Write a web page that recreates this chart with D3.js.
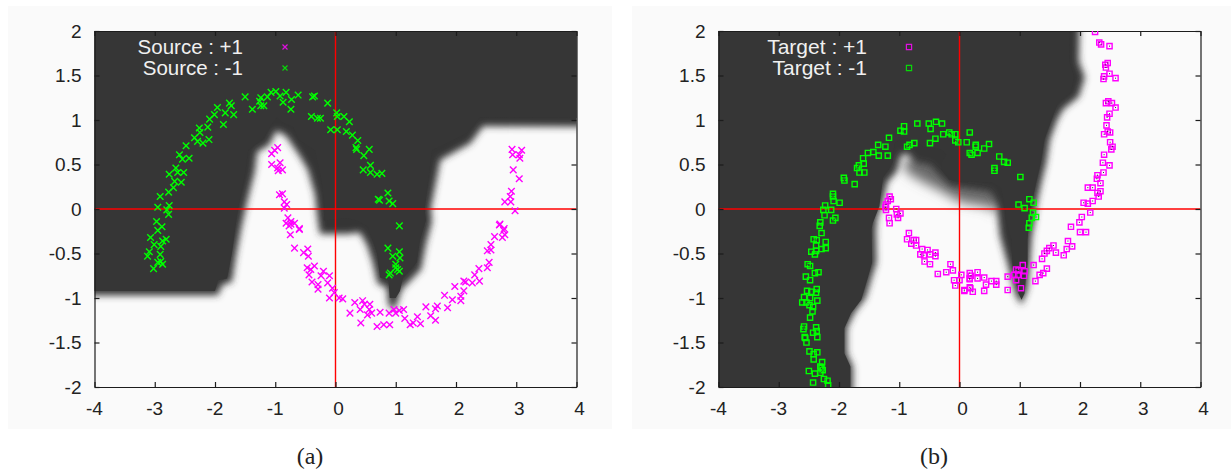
<!DOCTYPE html>
<html><head><meta charset="utf-8">
<style>html,body{margin:0;padding:0;background:#fff}svg{display:block}</style>
<script src="https://cdn.jsdelivr.net/npm/d3@7/dist/d3.min.js"></script></head><body>
<svg id="c" width="1231" height="474"></svg>
<script>
const xTicks=[-4,-3,-2,-1,0,1,2,3,4];
const yTicks=[-2,-1.5,-1,-0.5,0,0.5,1,1.5,2];
const sourcePlus=[[-0.96,0.69],[-1.01,0.66],[-1.06,0.62],[-0.92,0.52],[-1.06,0.50],[-0.96,0.46],[-0.88,0.44],[-0.95,0.43],[-0.88,0.17],[-0.93,0.16],[-0.85,0.08],[-0.81,0.05],[-0.85,0.01],[-0.79,-0.10],[-0.74,-0.14],[-0.77,-0.19],[-0.60,-0.22],[2.93,0.67],[2.94,0.61],[3.09,0.66],[3.05,0.61],[3.06,0.57],[2.95,0.44],[3.05,0.34],[2.92,0.20],[2.90,0.14],[2.81,0.08],[2.91,0.08],[2.98,-0.02],[2.72,-0.18],[2.80,-0.22],[-0.82,-0.16],[-0.74,-0.17],[-0.68,-0.16],[-0.60,-0.23],[-0.75,-0.29],[-0.68,-0.44],[-0.53,-0.49],[-0.46,-0.45],[-0.45,-0.53],[-0.47,-0.66],[-0.41,-0.68],[-0.35,-0.64],[-0.44,-0.74],[-0.39,-0.82],[-0.29,-0.85],[-0.29,-0.90],[-0.20,-0.70],[-0.24,-0.75],[-0.10,-0.75],[-0.13,-0.83],[-0.05,-0.89],[-0.02,-0.94],[-0.10,-1.00],[0.06,-1.00],[0.12,-1.01],[0.24,-1.17],[0.32,-1.05],[0.45,-1.03],[0.48,-1.07],[0.41,-1.13],[0.57,-1.07],[0.56,-1.13],[0.60,-1.17],[0.53,-1.19],[0.42,-1.28],[0.74,-1.16],[0.69,-1.32],[0.80,-1.30],[0.90,-1.30],[0.89,-1.17],[0.97,-1.13],[1.06,-1.14],[1.13,-1.13],[1.00,-1.17],[1.15,-1.23],[1.24,-1.30],[1.36,-1.21],[1.41,-1.29],[1.29,-1.28],[1.50,-1.10],[1.66,-1.12],[1.69,-1.09],[1.58,-1.20],[1.66,-1.25],[1.86,-1.11],[1.81,-0.97],[1.94,-1.02],[2.08,-0.98],[2.08,-1.03],[2.13,-0.92],[1.98,-0.87],[2.13,-0.81],[2.16,-0.82],[2.27,-0.83],[2.39,-0.81],[2.31,-0.74],[2.38,-0.67],[2.52,-0.66],[2.55,-0.60],[2.52,-0.47],[2.58,-0.46],[2.58,-0.40],[2.64,-0.31],[2.77,-0.32],[2.81,-0.29],[2.79,-0.24],[2.73,-0.17]];
const sourceMinus=[[-1.50,1.26],[-1.24,1.25],[-1.26,1.21],[-1.13,1.26],[-1.07,1.31],[-0.99,1.32],[-0.92,1.27],[-0.82,1.31],[-0.87,1.20],[-0.73,1.23],[-0.62,1.28],[-0.74,1.12],[-1.38,1.12],[-1.19,1.16],[-1.24,1.16],[-0.38,1.26],[-0.35,1.27],[-0.13,1.19],[-0.40,1.04],[-0.30,1.02],[-0.25,1.02],[0.02,1.08],[-0.08,0.89],[0.03,0.89],[-1.76,1.19],[-1.73,1.16],[-1.83,1.08],[-1.69,1.06],[-1.96,1.14],[-2.01,1.06],[-2.09,1.01],[-1.86,0.95],[-2.26,0.91],[-2.25,0.86],[-2.12,0.92],[-2.34,0.80],[-2.29,0.76],[-2.20,0.74],[-2.10,0.78],[-2.48,0.71],[-2.59,0.61],[-2.54,0.56],[-2.43,0.57],[-2.65,0.46],[-2.76,0.39],[-2.62,0.41],[-2.52,0.41],[-2.67,0.31],[-2.56,0.30],[-2.69,0.24],[-2.77,0.19],[-2.91,0.14],[-2.95,0.02],[-2.76,0.04],[-2.80,-0.01],[-2.77,-0.06],[-2.97,-0.14],[-2.88,-0.20],[0.03,1.04],[0.14,1.04],[0.23,0.98],[0.18,0.87],[0.28,0.83],[0.37,0.77],[0.34,0.69],[0.35,0.67],[0.56,0.67],[0.47,0.60],[0.58,0.49],[0.46,0.44],[0.58,0.41],[0.69,0.39],[0.77,0.40],[0.87,0.18],[0.71,0.11],[0.73,0.10],[0.89,0.09],[0.95,0.06],[1.06,-0.19],[-2.95,-0.24],[-3.07,-0.32],[-3.01,-0.40],[-2.87,-0.36],[-2.81,-0.34],[-2.90,-0.42],[-3.09,-0.48],[-2.91,-0.51],[-2.90,-0.59],[-2.95,-0.60],[-3.02,-0.67],[-3.12,-0.53],[-2.87,-0.62],[0.87,-0.44],[1.06,-0.48],[0.95,-0.53],[1.07,-0.55],[1.00,-0.62],[1.03,-0.68],[1.00,-0.66],[1.06,-0.70],[0.91,-0.72],[0.89,-0.74]];
const targetPlus=[[-1.16,0.14],[-1.14,0.11],[-1.19,0.09],[-1.22,0.05],[-1.23,0.02],[-1.22,-0.01],[-1.05,0.00],[-0.98,-0.05],[-1.04,-0.06],[-1.17,-0.10],[-1.02,-0.10],[-1.16,-0.16],[-0.84,-0.27],[-0.87,-0.34],[-0.76,-0.35],[-0.72,-0.35],[-0.80,-0.39],[-0.72,-0.41],[-0.62,-0.45],[-0.53,-0.46],[-0.65,-0.51],[-0.59,-0.52],[-0.49,-0.51],[-0.40,-0.49],[-0.40,-0.53],[-0.58,-0.59],[-0.49,-0.62],[-0.36,-0.73],[-0.22,-0.71],[-0.15,-0.62],[-0.11,-0.69],[0.03,-0.74],[-0.09,-0.80],[0,-0.80],[-0.07,-0.86],[0.08,-0.91],[0.17,-0.72],[0.17,-0.78],[0.18,-0.89],[2.25,1.99],[2.32,1.87],[2.35,1.85],[2.49,1.83],[2.46,1.64],[2.42,1.62],[2.43,1.59],[2.49,1.52],[2.40,1.49],[2.59,1.47],[2.39,1.46],[2.43,1.19],[2.47,1.21],[2.53,1.19],[2.59,1.14],[2.49,1.07],[2.45,1.03],[2.44,0.94],[2.46,0.87],[2.40,0.84],[2.50,0.86],[2.50,0.75],[2.54,0.70],[2.52,0.67],[2.40,0.61],[2.38,0.52],[2.49,0.49],[2.39,0.41],[2.29,0.38],[2.28,0.34],[2.34,0.29],[2.13,0.24],[2.21,0.24],[2.34,0.20],[2.29,0.18],[2.31,0.14],[2.21,0.09],[2.06,0.07],[2.13,0.06],[2.17,-0.04],[2.03,-0.09],[1.99,-0.15],[1.85,-0.20],[2.00,-0.26],[2.10,-0.26],[1.80,-0.36],[1.87,-0.42],[1.78,-0.45],[1.73,-0.52],[1.56,-0.41],[1.49,-0.44],[1.45,-0.47],[1.41,-0.50],[1.60,-0.49],[1.37,-0.56],[1.23,-0.63],[1.45,-0.67],[1.39,-0.72],[1.33,-0.74],[1.26,-0.81],[1.05,-0.63],[0.94,-0.68],[0.98,-0.69],[1.08,-0.70],[0.91,-0.74],[0.97,-0.74],[1.07,-0.75],[0.80,-0.76],[0.94,-0.80],[1.02,-0.89],[0.80,-0.91],[0.61,-0.81],[0.61,-0.85],[0.53,-0.81],[0.44,-0.85],[0.41,-0.77],[0.41,-0.92],[0.30,-0.71],[0.30,-0.78],[0.19,-0.75],[0.17,-0.79],[0.22,-0.93],[0.17,-0.88],[0.08,-0.92]];
const targetMinus=[[-0.92,0.93],[-0.98,0.88],[-0.92,0.87],[-1.17,0.80],[-0.70,0.96],[-0.51,0.96],[-0.48,0.90],[-0.39,0.98],[-0.29,0.96],[-1.35,0.72],[-1.23,0.70],[-1.43,0.64],[-1.52,0.63],[-1.60,0.57],[-1.59,0.51],[-1.34,0.60],[-1.19,0.60],[-1.67,0.49],[-1.70,0.46],[-1.66,0.41],[-1.58,0.41],[-0.87,0.70],[-0.83,0.72],[-0.75,0.74],[-0.49,0.74],[-0.40,0.79],[-0.27,0.84],[-0.17,0.86],[-0.13,0.84],[-0.07,0.84],[-0.07,0.77],[-0.02,0.75],[0.12,0.75],[0.17,0.86],[-1.92,0.35],[-1.91,0.32],[-1.74,0.28],[-2.10,0.17],[-2.10,0.14],[-2.09,0.09],[-1.99,0.07],[-2.23,0.04],[-2.26,-0.01],[-2.13,-0.01],[-2.24,-0.07],[-2.06,-0.10],[-2.10,-0.13],[-2.31,-0.15],[-2.32,-0.19],[0.27,0.72],[0.27,0.70],[0.41,0.68],[0.49,0.73],[0.17,0.63],[0.20,0.61],[0.30,0.63],[0.66,0.59],[0.74,0.53],[0.80,0.52],[0.58,0.46],[0.58,0.43],[1.01,0.36],[1.16,0.11],[1.23,0.07],[0.98,0.05],[1.08,0.01],[1.22,-0.04],[1.27,-0.09],[1.20,-0.10],[1.16,-0.16],[1.15,-0.21],[-2.29,-0.27],[-2.42,-0.34],[-2.37,-0.35],[-2.22,-0.37],[-2.22,-0.44],[-2.38,-0.41],[-2.29,-0.45],[-2.38,-0.47],[-2.46,-0.48],[-2.40,-0.51],[-2.52,-0.62],[-2.48,-0.64],[-2.40,-0.72],[-2.34,-0.71],[-2.55,-0.76],[-2.48,-0.80],[-2.37,-0.90],[-2.53,-0.92],[-2.46,-0.93],[-2.38,-0.94],[-2.58,-0.99],[-2.48,-1.00],[-2.61,-1.05],[-2.54,-1.05],[-2.36,-1.03],[-2.49,-1.08],[-2.43,-1.10],[-2.44,-1.15],[-2.48,-1.22],[-2.58,-1.32],[-2.59,-1.35],[-2.38,-1.33],[-2.43,-1.39],[-2.37,-1.37],[-2.36,-1.44],[-2.57,-1.44],[-2.56,-1.45],[-2.54,-1.50],[-2.49,-1.60],[-2.36,-1.61],[-2.42,-1.63],[-2.42,-1.69],[-2.28,-1.72],[-2.31,-1.77],[-2.29,-1.79],[-2.50,-1.82],[-2.27,-1.81],[-2.40,-1.85],[-2.31,-1.84],[-2.25,-1.91],[-2.19,-1.93],[-2.43,-1.95],[-2.18,-1.98]];
const regionACore=[[-5,-0.92],[-2.0,-0.92],[-1.95,-0.8],[-1.8,-0.78],[-1.72,-0.5],[-1.62,0],[-1.5,0.4],[-1.45,0.66],[-1.2,0.79],[-1.05,0.96],[-0.97,1.03],[-0.87,0.97],[-0.7,0.92],[-0.62,0.78],[-0.34,0.66],[-0.23,0.32],[-0.18,0],[-0.2,-0.13],[0.2,-0.1],[0.36,-0.13],[0.54,-0.2],[0.69,-0.5],[0.74,-0.77],[0.88,-0.8],[0.9,-1],[1.0,-1.0],[1.07,-0.92],[1.12,-0.77],[1.35,-0.6],[1.4,-0.35],[1.5,-0.13],[1.48,0],[1.6,0.66],[2.18,0.85],[2.4,1.03],[5,1.02],[5,3],[-5,3]];
const regionASoft=[[-5,-0.97],[-1.95,-0.97],[-1.88,-0.85],[-1.72,-0.82],[-1.65,-0.52],[-1.56,-0.2],[-1.46,0.1],[-1.34,0.42],[-1.3,0.64],[-1.1,0.72],[-0.98,0.88],[-0.82,0.82],[-0.6,0.6],[-0.46,0.44],[-0.34,0.16],[-0.3,-0.1],[-0.26,-0.28],[0.22,-0.28],[0.4,-0.26],[0.52,-0.4],[0.62,-0.6],[0.7,-0.84],[0.85,-0.88],[0.88,-1.08],[0.97,-1.14],[1.03,-1.04],[1.1,-0.9],[1.22,-0.82],[1.42,-0.68],[1.5,-0.4],[1.6,-0.14],[1.58,0],[1.74,0.55],[2.24,0.74],[2.45,0.93],[5,0.92],[5,3],[-5,3]];
const regionBCore=[[-1.81,-3],[-1.81,-1.77],[-1.91,-1.62],[-1.91,-1.34],[-1.8,-1.17],[-1.63,-1.02],[-1.52,-0.77],[-1.45,-0.6],[-1.46,-0.23],[-1.44,-0.16],[-1.33,0.03],[-1.27,0.35],[-1.11,0.52],[-1.08,0.74],[-0.94,0.81],[-0.75,0.77],[-0.58,0.69],[-0.3,0.67],[-0.22,0.61],[-0.3,0.52],[-0.3,0.44],[-0.17,0.33],[0,0.31],[0.53,0.3],[0.69,0.24],[0.75,0.03],[0.77,-0.12],[0.86,-0.34],[0.88,-0.64],[0.98,-0.95],[1.03,-1.02],[1.08,-0.95],[1.1,-0.79],[1.13,-0.62],[1.13,-0.34],[1.16,-0.12],[1.19,0.03],[1.27,0.29],[1.35,0.52],[1.41,0.78],[1.55,1.04],[1.63,1.19],[1.85,1.31],[1.9,1.49],[1.82,1.66],[1.85,3],[-5,3],[-5,-3]];
const regionBSoft=[[-1.77,-3],[-1.77,-1.77],[-1.87,-1.62],[-1.87,-1.34],[-1.74,-1.16],[-1.56,-1.0],[-1.46,-0.77],[-1.38,-0.6],[-1.39,-0.23],[-1.37,-0.1],[-1.28,0.06],[-1.2,0.3],[-1.04,0.42],[-0.97,0.6],[-0.86,0.62],[-0.72,0.52],[-0.5,0.5],[-0.3,0.36],[-0.15,0.26],[0.1,0.24],[0.5,0.2],[0.62,0.02],[0.67,-0.3],[0.8,-0.62],[0.93,-0.96],[1.03,-1.08],[1.13,-0.9],[1.17,-0.6],[1.2,-0.3],[1.25,-0.12],[1.28,0.05],[1.36,0.3],[1.44,0.52],[1.5,0.78],[1.62,1.0],[1.72,1.12],[1.98,1.26],[2.08,1.48],[1.98,1.66],[2.02,3],[-5,3],[-5,-3]];
const regionBFar=[[-0.95,0.5],[-0.85,0.4],[-0.6,0.3],[-0.3,0.2],[0,0.08],[0.5,0.02],[0.62,-0.06],[0.7,0.5],[-0.6,0.7]];

const svg=d3.select("#c");
const defs=svg.append("defs");
defs.append("filter").attr("id","soft").attr("x","-10%").attr("y","-10%").attr("width","120%").attr("height","120%")
  .append("feGaussianBlur").attr("stdDeviation",3.6);
defs.append("filter").attr("id","softer").attr("x","-20%").attr("y","-20%").attr("width","140%").attr("height","140%")
  .append("feGaussianBlur").attr("stdDeviation",6);

const panels=[
 {id:"a",bg:[8,604],left:94.5,caption:"(a)",capX:310,core:regionACore,soft:regionASoft,far:null,
  plus:sourcePlus,minus:sourceMinus,marker:"x",
  labels:["Source : +1","Source : -1"],legendX:243,keyX:285,legendSize:20.5},
 {id:"b",bg:[632,599],left:718.5,caption:"(b)",capX:934,core:regionBCore,soft:regionBSoft,far:regionBFar,
  plus:targetPlus,minus:targetMinus,marker:"s",
  labels:["Target : +1","Target : -1"],legendX:867,keyX:909,legendSize:21}];
const plotTop=31,plotBottom=387,plotW=482,ink="#1c1c1c",dark="#363636",magenta="#ff00ff",green="#00ff00";

panels.forEach(p=>{
  const g=svg.append("g");
  g.append("rect").attr("x",p.bg[0]).attr("y",6).attr("width",p.bg[1]).attr("height",423).attr("fill","#fafafa");
  const x=d3.scaleLinear().domain([-4,4]).range([p.left,p.left+plotW]);
  const y=d3.scaleLinear().domain([-2,2]).range([plotBottom,plotTop]);
  const line=d3.line().x(d=>x(d[0])).y(d=>y(d[1]));
  const clipId="clip-"+p.id;
  defs.append("clipPath").attr("id",clipId).append("rect")
    .attr("x",p.left).attr("y",plotTop).attr("width",plotW).attr("height",plotBottom-plotTop);
  const plot=g.append("g").attr("clip-path",`url(#${clipId})`);
  if(p.far) plot.append("path").attr("d",line(p.far)+"Z").attr("fill","#6a6a6a").attr("filter","url(#softer)");
  plot.append("path").attr("d",line(p.soft)+"Z").attr("fill",dark).attr("filter","url(#soft)");
  plot.append("path").attr("d",line(p.core)+"Z").attr("fill",dark);
  plot.append("line").attr("x1",x(-4)).attr("x2",x(4)).attr("y1",y(0)).attr("y2",y(0)).attr("stroke","#ff0000").attr("stroke-width",1.4);
  plot.append("line").attr("x1",x(0)).attr("x2",x(0)).attr("y1",y(-2)).attr("y2",y(2)).attr("stroke","#ff0000").attr("stroke-width",1.4);

  // frame and ticks
  const fmt=d=>String(d);
  const axes=[
    [d3.axisBottom(x).tickValues(xTicks).tickSize(-5).tickSizeOuter(0).tickFormat(fmt),`translate(0,${plotBottom})`,true],
    [d3.axisTop(x).tickValues(xTicks).tickSize(-5).tickSizeOuter(0).tickFormat(""),`translate(0,${plotTop})`,false],
    [d3.axisLeft(y).tickValues(yTicks).tickSize(-5).tickSizeOuter(0).tickFormat(fmt),`translate(${p.left},0)`,true],
    [d3.axisRight(y).tickValues(yTicks).tickSize(-5).tickSizeOuter(0).tickFormat(""),`translate(${p.left+plotW},0)`,false]];
  axes.forEach(([a,t,lab],i)=>{
    const ag=g.append("g").attr("transform",t).call(a);
    ag.selectAll("path").attr("stroke",ink).attr("stroke-width",1.2);
    ag.selectAll("line").attr("stroke",ink).attr("stroke-width",1.2);
    if(lab){
      ag.selectAll("text").attr("font-family","'Liberation Sans',Arial,sans-serif").attr("font-size",19).attr("fill","#222");
      if(i===0) ag.selectAll("text").attr("y",15).attr("dy","0.71em").attr("dx",d=>d<0?-0.5:2.5);
      else ag.selectAll("text").attr("x",-13).attr("dy","0.34em");
    }
  });

  // points
  const shape=d3.symbol().type(p.marker==="x"?d3.symbolTimes:d3.symbolSquare).size(p.marker==="x"?30:27)();
  [[p.plus,magenta],[p.minus,green]].forEach(([pts,col])=>{
    g.append("g").attr("clip-path",`url(#${clipId})`).selectAll("path").data(pts).join("path")
      .attr("d",shape).attr("transform",d=>`translate(${x(d[0])},${y(d[1])})`)
      .attr("fill","none").attr("stroke",col).attr("stroke-width",1.4);
    if(p.marker==="s"){
      g.append("g").selectAll("rect").data(pts).join("rect")
       .attr("x",d=>x(d[0])-0.5).attr("y",d=>y(d[1])-0.5).attr("width",1).attr("height",1).attr("fill","#333");
    }
  });

  // legend
  p.labels.forEach((t,i)=>{
    const ly=47+i*21;
    g.append("text").attr("x",p.legendX).attr("y",ly+7).attr("text-anchor","end")
      .attr("font-family","'Liberation Sans',Arial,sans-serif").attr("font-size",p.legendSize).attr("fill","#f0f0f0").text(t);
    g.append("path").attr("d",d3.symbol().type(p.marker==="x"?d3.symbolTimes:d3.symbolSquare).size(p.marker==="x"?18:27)())
      .attr("transform",`translate(${p.keyX},${ly})`).attr("fill","none")
      .attr("stroke",i===0?"#e010e0":"#08d808").attr("stroke-width",1.2);
  });

  svg.append("text").attr("x",p.capX).attr("y",464).attr("text-anchor","middle")
    .attr("font-family","'Liberation Serif',serif").attr("font-size",24).attr("fill","#222").text(p.caption);
});
</script></body></html>
